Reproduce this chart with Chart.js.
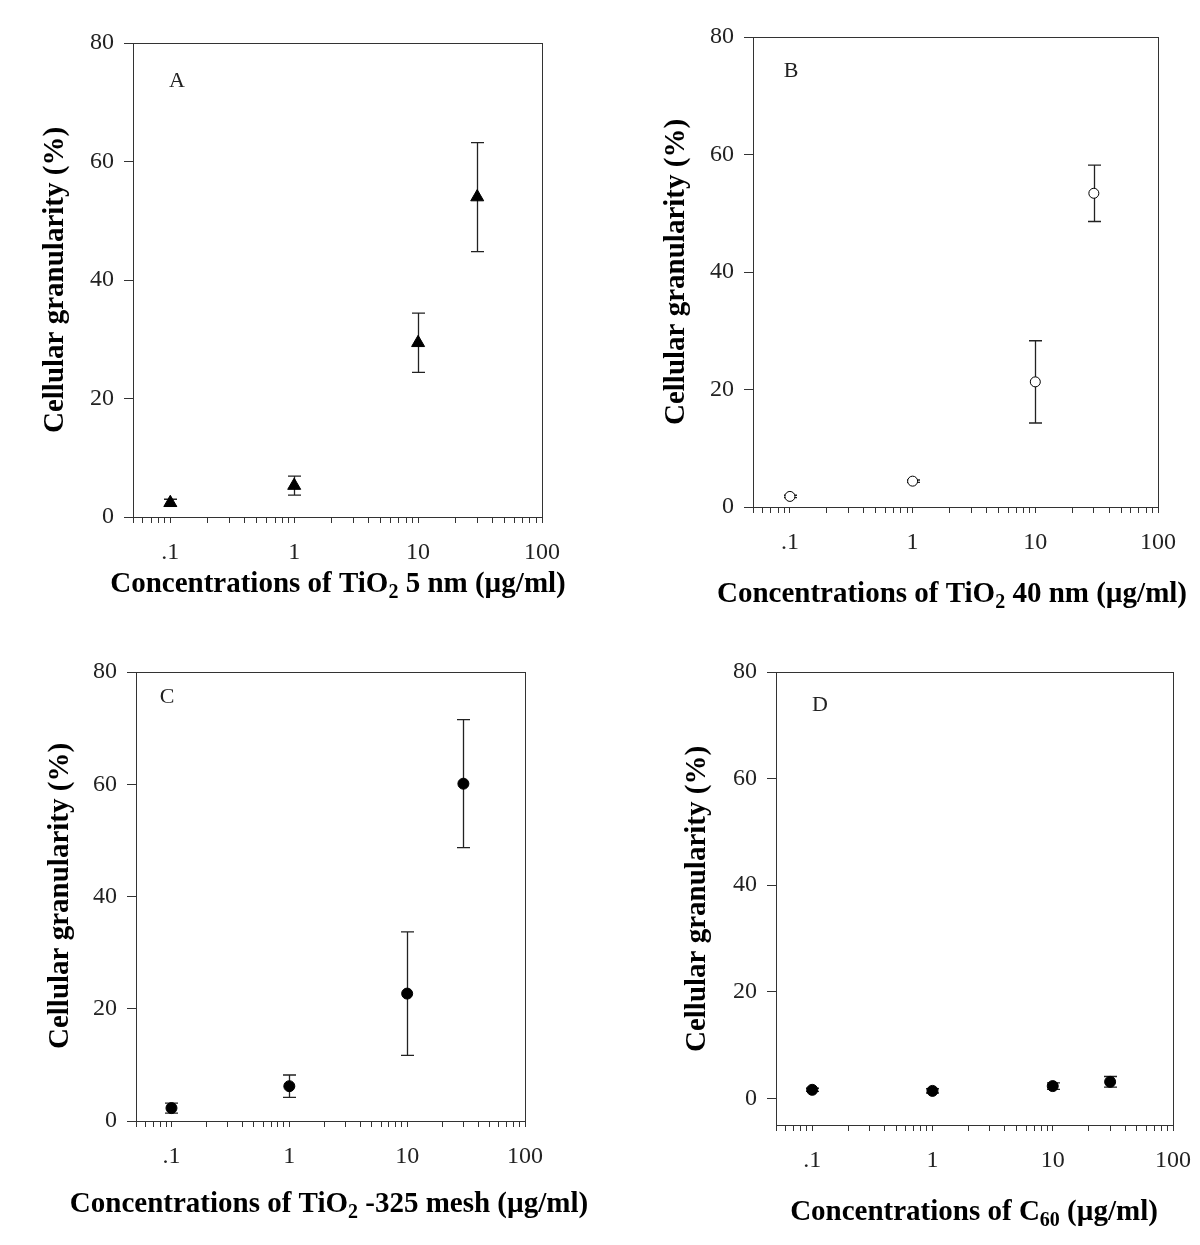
<!DOCTYPE html>
<html>
<head>
<meta charset="utf-8">
<script src="https://cdn.jsdelivr.net/npm/chart.js@4.4.0/dist/chart.umd.min.js"></script>
<style>
  body { margin: 0; background: #fff; }
  #wrap { position: relative; width: 1200px; height: 1245px; }
  canvas { position: absolute; }
</style>
</head>
<body>
<div id="wrap">
  <canvas id="cA" width="600" height="622" style="left:0;top:0"></canvas>
  <canvas id="cB" width="600" height="622" style="left:600px;top:0"></canvas>
  <canvas id="cC" width="600" height="623" style="left:0;top:622px"></canvas>
  <canvas id="cD" width="600" height="623" style="left:600px;top:622px"></canvas>
</div>
<script>
// concentrations (ug/ml), shared by all panels
var concentrations = [0.1, 1, 10, 30];

// A: TiO2 5 nm
var meansA = [2.4, 5.3, 29.4, 54.0];
var errA = [0.6, 1.6, 5.0, 9.2];
// B: TiO2 40 nm
var meansB = [1.8, 4.4, 21.3, 53.4];
var errB = [0.2, 0.2, 7.0, 4.8];
// C: TiO2 -325 mesh
var meansC = [2.3, 6.2, 22.7, 60.1];
var errC = [0.9, 2.0, 11.0, 11.4];
// D: C60
var meansD = [1.6, 1.4, 2.3, 3.1];
var errD = [0.3, 0.4, 0.6, 1.0];

var majorTicks = [0.1, 1, 10, 100];
var majorLabels = ['.1', '1', '10', '100'];
var yTicks = [0, 20, 40, 60, 80];

var serif = "'Liberation Serif', 'Times New Roman', serif";
Chart.defaults.font.family = serif;
Chart.defaults.color = '#222';

// minor ticks of the log axis: 2..9 of every decade, plus .05-.09
var xTickValues = [0.05, 0.06, 0.07, 0.08, 0.09];
[0.1, 1, 10].forEach(function (d) {
  for (var k = 1; k <= 9; k++) xTickValues.push(k * d);
});
xTickValues.push(100);

var panels = [
  { canvas: 'cA', letter: 'A', means: meansA, errs: errA, style: 'triangle', radius: 7.5, fill: '#000',
    yMin: 0, pad: { top: 43, right: 58 }, yw: 133, xh: 105,
    xTitle: [['Concentrations of TiO', false], ['2', true], [' 5 nm (\u00b5g/ml)', false]],
    xT: [338, 585], yT: [56, 280], letterPos: [177, 81] },
  { canvas: 'cB', letter: 'B', means: meansB, errs: errB, style: 'circle', radius: 5, fill: '#fff',
    yMin: 0, pad: { top: 37, right: 42 }, yw: 153, xh: 115,
    xTitle: [['Concentrations of TiO', false], ['2', true], [' 40 nm (\u00b5g/ml)', false]],
    xT: [352, 595], yT: [77, 272], letterPos: [191, 71] },
  { canvas: 'cC', letter: 'C', means: meansC, errs: errC, style: 'circle', radius: 5.5, fill: '#000',
    yMin: 0, pad: { top: 50, right: 75 }, yw: 136, xh: 124,
    xTitle: [['Concentrations of TiO', false], ['2', true], [' -325 mesh (\u00b5g/ml)', false]],
    xT: [329, 583], yT: [61, 274], letterPos: [167, 75] },
  { canvas: 'cD', letter: 'D', means: meansD, errs: errD, style: 'circle', radius: 5.5, fill: '#000',
    yMin: -5, pad: { top: 50, right: 27 }, yw: 176, xh: 120,
    xTitle: [['Concentrations of C', false], ['60', true], [' (\u00b5g/ml)', false]],
    xT: [374, 591], yT: [98, 277], letterPos: [220, 83] }
];

function drawRichText(ctx, parts, cx, cy, size) {
  var subSize = Math.round(size * 0.68);
  var widths = parts.map(function (p) {
    ctx.font = 'bold ' + (p[1] ? subSize : size) + 'px ' + serif;
    return ctx.measureText(p[0]).width;
  });
  var total = widths.reduce(function (a, b) { return a + b; }, 0);
  var x = cx - total / 2;
  ctx.textBaseline = 'middle';
  ctx.textAlign = 'left';
  parts.forEach(function (p, i) {
    ctx.font = 'bold ' + (p[1] ? subSize : size) + 'px ' + serif;
    ctx.fillText(p[0], x, p[1] ? cy + 8 : cy);
    x += widths[i];
  });
}

var extrasPlugin = {
  id: 'extras',
  beforeDatasetsDraw: function (chart) {
    var p = chart.options.plugins.extras;
    var ctx = chart.ctx;
    var xs = chart.scales.x, ys = chart.scales.y;
    var a = chart.chartArea;
    ctx.save();
    ctx.strokeStyle = '#333';
    ctx.lineWidth = 1;
    ctx.strokeRect(Math.round(a.left) + 0.5, Math.round(a.top) + 0.5, Math.round(a.right - a.left), Math.round(a.bottom - a.top));
    // error bars
    ctx.strokeStyle = '#222';
    ctx.lineWidth = 1.3;
    p.means.forEach(function (m, i) {
      var e = p.errs[i];
      var px = Math.round(xs.getPixelForValue(concentrations[i])) + 0.5;
      var top = ys.getPixelForValue(m + e);
      var bot = ys.getPixelForValue(m - e);
      ctx.beginPath();
      ctx.moveTo(px, top); ctx.lineTo(px, bot);
      ctx.moveTo(px - 6.5, top); ctx.lineTo(px + 6.5, top);
      ctx.moveTo(px - 6.5, bot); ctx.lineTo(px + 6.5, bot);
      ctx.stroke();
    });
    ctx.restore();
  },
  afterDraw: function (chart) {
    var p = chart.options.plugins.extras;
    var ctx = chart.ctx;
    ctx.save();
    ctx.fillStyle = '#000';
    drawRichText(ctx, p.xTitle, p.xT[0], p.xT[1], 29);
    ctx.translate(p.yT[0], p.yT[1]);
    ctx.rotate(-Math.PI / 2);
    ctx.font = 'bold 29px ' + serif;
    ctx.textAlign = 'center';
    ctx.textBaseline = 'middle';
    ctx.fillText('Cellular granularity (%)', 0, 0);
    ctx.restore();
    ctx.save();
    ctx.fillStyle = '#222';
    ctx.font = '22px ' + serif;
    ctx.textAlign = 'center';
    ctx.textBaseline = 'middle';
    ctx.fillText(p.letter, p.letterPos[0], p.letterPos[1]);
    ctx.restore();
  }
};

panels.forEach(function (p) {
  new Chart(document.getElementById(p.canvas), {
    type: 'scatter',
    data: {
      datasets: [{
        data: concentrations.map(function (c, i) { return { x: c, y: p.means[i] }; }),
        pointStyle: p.style,
        pointRadius: p.radius,
        pointHoverRadius: p.radius,
        backgroundColor: p.fill,
        borderColor: '#000',
        borderWidth: 1,
        showLine: false,
        clip: false
      }]
    },
    options: {
      responsive: false,
      animation: false,
      devicePixelRatio: 1,
      layout: { padding: { top: p.pad.top, right: p.pad.right, left: 0, bottom: 0 } },
      plugins: {
        legend: { display: false },
        tooltip: { enabled: false },
        extras: p
      },
      scales: {
        x: {
          type: 'logarithmic',
          min: 0.05,
          max: 100,
          afterBuildTicks: function (s) {
            s.ticks = xTickValues.map(function (v) { return { value: v }; });
          },
          afterFit: function (s) {
            s.height = p.xh;
            s.paddingLeft = 0;
            s.paddingRight = 0;
          },
          ticks: {
            autoSkip: false,
            maxRotation: 0,
            padding: 15,
            color: '#222',
            font: { size: 24 },
            callback: function (v) {
              var k = majorTicks.indexOf(v);
              return k >= 0 ? majorLabels[k] : '';
            }
          },
          grid: { drawOnChartArea: false, tickLength: 6, tickColor: '#333', tickWidth: 1 },
          border: { display: true, color: '#333', width: 1 }
        },
        y: {
          type: 'linear',
          min: p.yMin,
          max: 80,
          afterBuildTicks: function (s) {
            s.ticks = yTicks.map(function (v) { return { value: v }; });
          },
          afterFit: function (s) { s.width = p.yw; },
          ticks: { padding: 10, color: '#222', font: { size: 24 } },
          grid: { drawOnChartArea: false, tickLength: 9, tickColor: '#333', tickWidth: 1 },
          border: { display: true, color: '#333', width: 1 }
        }
      }
    },
    plugins: [extrasPlugin]
  });
});
</script>
</body>
</html>
